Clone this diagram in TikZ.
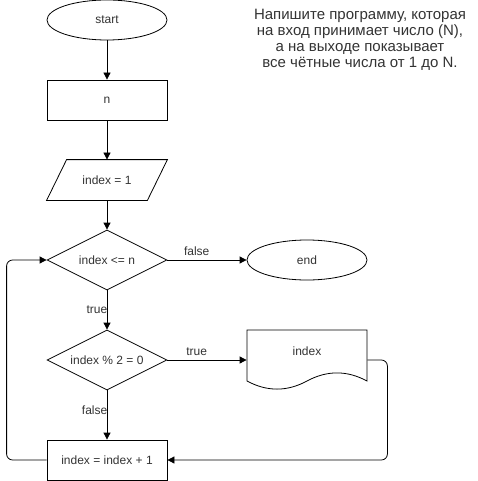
\documentclass[tikz,border=0pt]{standalone}
\usepackage{fontspec}
\setmainfont{Liberation Sans}
\usepackage{tikz}
\usetikzlibrary{shapes.geometric, arrows.meta}

\begin{document}
\begin{tikzpicture}[x=1pt, y=-1pt, line width=0.8pt,
        every node/.style={font=\fontsize{12}{14}\selectfont, text=black!80},
        term/.style={draw, ellipse, minimum width=120pt, minimum height=40pt, inner sep=0pt},
        proc/.style={draw, rectangle, minimum width=120pt, minimum height=40pt, inner sep=0pt},
        io/.style={rectangle, minimum width=120pt, minimum height=40pt, inner sep=0pt},
        cond/.style={draw, diamond, aspect=2, minimum width=120pt, minimum height=60pt, inner sep=0pt},
        flow/.style={draw, -{Triangle[length=7pt, width=7pt]}}]
            \useasboundingbox (0,0) rectangle (478,481);
        % Task text
            \node [font=\fontsize{15}{16}\selectfont, align=center] (task) at (360,40)
                {Напишите программу, которая\\на вход принимает число (N),\\а на выходе показывает\\все чётные числа от 1 до N.};
        % Main column
            \node [term] (start) at (107,20) {start};
            \node [proc] (n) at (107,100) {n};
            \node [io] (init) at (107,180) {index = 1};
            \draw ([xshift=20pt]init.north west) -- (init.north east)
                -- ([xshift=-20pt]init.south east) -- (init.south west) -- cycle;
            \node [cond] (check) at (107,260) {index <= n};
            \node [cond] (even) at (107,360) {index \% 2 = 0};
            \node [proc] (inc) at (107,460) {index = index + 1};
        % Right column
            \node [term] (end) at (307,260) {end};
            \node [minimum width=120pt, minimum height=60pt, inner sep=0pt] (out) at (307,360) {};
            \draw (247,330) -- (367,330) -- (367,381)
                .. controls (347,370.2) and (327,370.2) .. (307,381)
                .. controls (287,391.8) and (267,391.8) .. (247,381) -- cycle;
            \node at (307,351) {index};
        % Connectors
            \draw [flow] (start) -- (n);
            \draw [flow] (n) -- (init);
            \draw [flow] (init) -- (check);
            \draw [flow] (check) -- (even) node [pos=0.5, left=-4pt] {true};
            \draw [flow] (check) -- (end) node [pos=0.37, above=1pt] {false};
            \draw [flow] (even) -- (inc) node [pos=0.4, left=-4pt] {false};
            \draw [flow] (even) -- (out) node [pos=0.37, above=1pt] {true};
            \draw [flow, rounded corners=6pt] (out.east) -- ++(20,0) |- (inc.east);
            \draw [flow, rounded corners=6pt] (inc.west) -- ++(-40,0) |- (check.west);
\end{tikzpicture}
\end{document}
